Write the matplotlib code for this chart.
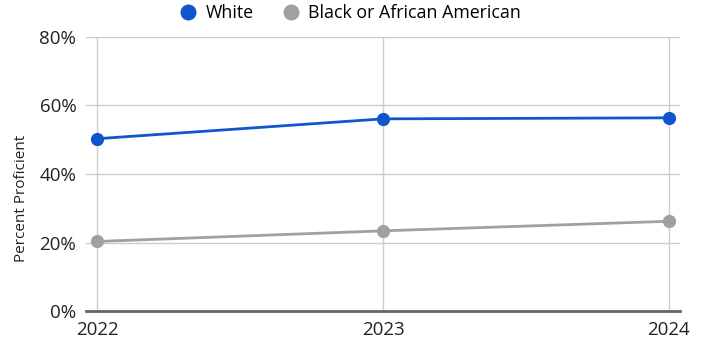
import matplotlib.pyplot as plt
from matplotlib.lines import Line2D
from matplotlib.ticker import FuncFormatter

# proficiency by group
years = [2022, 2023, 2024]
white = [50.3, 56.1, 56.4]
black = [20.3, 23.4, 26.2]
series_names = ["White", "Black or African American"]
y_ticks = [0, 20, 40, 60, 80]

blue = "#1155cc"
grey = "#a0a0a0"

plt.rcParams['font.family'] = ['Open Sans', 'DejaVu Sans']

png_width = 705
png_height = 343
png_dpi = 100

fig = plt.figure(figsize=(png_width / png_dpi, png_height / png_dpi), dpi=png_dpi)
ax = fig.add_axes([86 / 705, 32 / 343, 594 / 705, 274 / 343])

ax.plot(years, white, color=blue, lw=2, marker="o", ms=8.5, zorder=3)
ax.plot(years, black, color=grey, lw=2, marker="o", ms=8.5, zorder=3)

ax.set_xlim(2022 - 11 / 286, 2024 + 11 / 286)
ax.set_ylim(0, 80)
ax.set_xticks(years)
ax.set_yticks(y_ticks)
ax.yaxis.set_major_formatter(FuncFormatter(lambda v, p: f"{v:.0f}%"))

# light grid, dark baseline
ax.grid(True, color="#cccccc", lw=1)
for s in ["top", "right", "left"]:
    ax.spines[s].set_visible(False)
ax.spines["bottom"].set_color("#666666")
ax.spines["bottom"].set_linewidth(2)
ax.spines["bottom"].set_zorder(4)
ax.tick_params(axis="both", length=0, labelsize=13.5, colors="#222222")
ax.tick_params(axis="y", pad=7)
ax.tick_params(axis="x", pad=7)

fig.text(22 / 705, 1 - 198 / 343, "Percent Proficient", rotation=90,
         ha="center", va="center", fontsize=11, color="#222222")

handles = [Line2D([], [], ls="none", marker="o", ms=10.5, color=c) for c in (blue, grey)]
fig.legend(handles, series_names, loc="center", bbox_to_anchor=(350 / 705, 1 - 13 / 343),
           ncol=2, frameon=False, fontsize=12.8, handletextpad=0.5, columnspacing=1.6,
           handlelength=1.0, borderpad=0)

plt.savefig("out.png", dpi=png_dpi)
